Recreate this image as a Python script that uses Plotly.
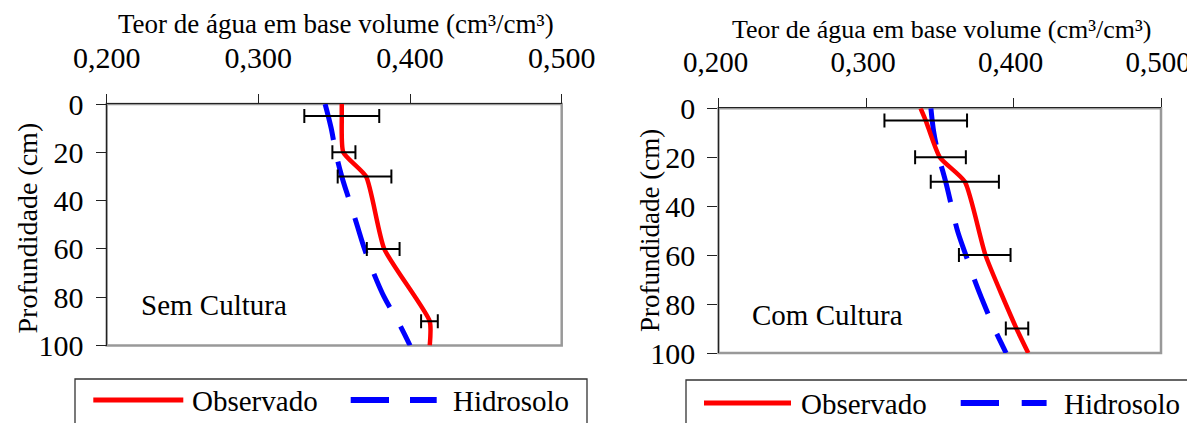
import plotly.graph_objects as go

OFF = 8  # browser body margin
W, H = 1195 - OFF, 423 - OFF
FONT = "Times New Roman, Liberation Serif, DejaVu Serif, serif"

# ---------------- data ----------------
depth_obs = [0, 5, 20, 30, 60, 90, 100]
obs_sem = [0.355, 0.355, 0.356, 0.371, 0.383, 0.413, 0.413]
obs_com = [0.337, 0.3405, 0.350, 0.367, 0.381, 0.402, 0.410]

depth_err = [5, 20, 30, 60, 90]
err_center_sem = [0.355, 0.3564, 0.370, 0.3823, 0.4128]
err_sem = [0.0247, 0.0076, 0.0177, 0.0108, 0.0055]
err_center_com = [0.3405, 0.3505, 0.367, 0.3805, 0.4024]
err_com = [0.028, 0.0172, 0.0231, 0.0175, 0.0076]

depth_hid = [0, 10, 20, 30, 40, 50, 60, 70, 80, 90, 100]
hid_sem = [0.344, 0.348, 0.351, 0.355, 0.360, 0.365, 0.370, 0.376, 0.383, 0.392, 0.400]
hid_com = [0.344, 0.346, 0.3495, 0.354, 0.358, 0.362, 0.3677, 0.3735, 0.380, 0.387, 0.395]

x_tickvals = [0.2, 0.3, 0.4, 0.5]
x_ticktext = ["0,200", "0,300", "0,400", "0,500"]
y_tickvals = [0, 20, 40, 60, 80, 100]

x_title = "Teor de água em base volume (cm³/cm³)"
y_title = "Profundidade (cm)"
panel_labels = ["Sem Cultura", "Com Cultura"]
legend_names = ["Observado", "Hidrosolo"]


def px(x):
    return (x - OFF) / W


def py(y):
    return 1 - (y - OFF) / H


fig = go.Figure()

panels = [
    dict(obs=obs_sem, hid=hid_sem, ec=err_center_sem, e=err_sem, xa="x", ya="y"),
    dict(obs=obs_com, hid=hid_com, ec=err_center_com, e=err_com, xa="x2", ya="y2"),
]

for p in panels:
    fig.add_trace(go.Scatter(
        x=p["hid"], y=depth_hid, mode="lines", line_shape="spline",
        line=dict(color="#0000FF", width=5, dash="37px,22px"),
        xaxis=p["xa"], yaxis=p["ya"], showlegend=False, name=legend_names[1]))
    fig.add_trace(go.Scatter(
        x=p["obs"], y=depth_obs, mode="lines", line_shape="spline",
        line=dict(color="#FF0000", width=4.5, smoothing=0.55),
        xaxis=p["xa"], yaxis=p["ya"], showlegend=False, name=legend_names[0]))
    fig.add_trace(go.Scatter(
        x=p["ec"], y=depth_err, mode="markers", marker=dict(size=0.1, color="black"),
        error_x=dict(type="data", array=p["e"], color="black", thickness=2, width=7),
        xaxis=p["xa"], yaxis=p["ya"], showlegend=False, hoverinfo="skip"))

# geometry (pixels in the reference picture)
geo = [
    dict(l=106.7, r=561.7, t=104, b=345.5),
    dict(l=718.5, r=1161, t=108.3, b=353),
]

axis_common_x = dict(
    range=[0.2, 0.5], side="top", tickvals=x_tickvals, ticktext=x_ticktext,
    ticks="outside", ticklen=9, tickwidth=1.3, tickcolor="#222",
    showline=True, linecolor="#222", linewidth=1.3, showgrid=False, zeroline=False,
    tickfont=dict(family=FONT, size=30, color="black"), ticklabelstandoff=14,
    automargin=False)
axis_common_y = dict(
    range=[100, 0], tickvals=y_tickvals,
    ticks="outside", ticklen=10, tickwidth=1.3, tickcolor="#222",
    showline=True, linecolor="#222", linewidth=1.3, showgrid=False, zeroline=False,
    tickfont=dict(family=FONT, size=30, color="black"), ticklabelstandoff=6,
    automargin=False)

fig.update_layout(
    width=W, height=H, margin=dict(l=0, r=0, t=0, b=0),
    paper_bgcolor="white", plot_bgcolor="white", showlegend=False,
    font=dict(family=FONT, color="black"),
    xaxis=dict(axis_common_x, domain=[px(geo[0]["l"]), px(geo[0]["r"])], anchor="y"),
    yaxis=dict(axis_common_y, domain=[py(geo[0]["b"]), py(geo[0]["t"])], anchor="x"),
    xaxis2=dict(axis_common_x, domain=[px(geo[1]["l"]), px(geo[1]["r"])], anchor="y2",
                tickfont=dict(family=FONT, size=29, color="black"),
                ticklabelstandoff=15, ticklabelshift=-3),
    yaxis2=dict(axis_common_y, domain=[py(geo[1]["b"]), py(geo[1]["t"])], anchor="x2"),
)

shapes = []
annotations = []

# gray plot-area borders
for xa, ya in [("x", "y"), ("x2", "y2")]:
    shapes.append(dict(type="rect", xref=f"{xa} domain", yref=f"{ya} domain",
                       x0=0, x1=1, y0=0, y1=1, layer="below",
                       line=dict(color="#999999", width=2.5)))

# titles
for cx, cy, fs in [(336, 24, 27), (941.5, 30, 26)]:
    annotations.append(dict(x=px(cx), y=py(cy), xref="paper", yref="paper",
                            text=x_title, showarrow=False, xanchor="center", yanchor="middle",
                            font=dict(family=FONT, size=fs, color="black")))
for cx, cy, fs in [(26.5, 228, 28), (650, 231, 27)]:
    annotations.append(dict(x=px(cx), y=py(cy), xref="paper", yref="paper",
                            text=y_title, showarrow=False, textangle=-90,
                            xanchor="center", yanchor="middle",
                            font=dict(family=FONT, size=fs, color="black")))
for (lx, cy), lab in zip([(139, 305), (749.6, 315)], panel_labels):
    annotations.append(dict(x=px(lx), y=py(cy), xref="paper", yref="paper",
                            text=lab, showarrow=False, xanchor="left", yanchor="middle",
                            font=dict(family=FONT, size=29, color="black")))

# legends (drawn manually)
legs = [
    dict(box=(75, 587, 379), red=(93.3, 183.3), blue=[(350.7, 389), (410, 436.7)],
         ly=400, tobs=190, thid=451),
    dict(box=(686, 1194, 380), red=(704, 791), blue=[(960.7, 999), (1021.7, 1046.6)],
         ly=403, tobs=798.5, thid=1062),
]
for lg in legs:
    bl, br, bt = lg["box"]
    shapes.append(dict(type="rect", xref="paper", yref="paper",
                       x0=px(bl), x1=px(br), y0=py(bt), y1=py(423 + 20),
                       line=dict(color="#333", width=1.3)))
    shapes.append(dict(type="line", xref="paper", yref="paper",
                       x0=px(lg["red"][0]), x1=px(lg["red"][1]),
                       y0=py(lg["ly"]), y1=py(lg["ly"]),
                       line=dict(color="#FF0000", width=5)))
    for a, b in lg["blue"]:
        shapes.append(dict(type="line", xref="paper", yref="paper",
                           x0=px(a), x1=px(b), y0=py(lg["ly"]), y1=py(lg["ly"]),
                           line=dict(color="#0000FF", width=6)))
    for tx, name in [(lg["tobs"], legend_names[0]), (lg["thid"], legend_names[1])]:
        annotations.append(dict(x=px(tx), y=py(lg["ly"] + 1), xref="paper", yref="paper",
                                text=name, showarrow=False, xanchor="left", yanchor="middle",
                                font=dict(family=FONT, size=29, color="black")))

fig.update_layout(shapes=shapes, annotations=annotations)
fig.write_html("out.html")
